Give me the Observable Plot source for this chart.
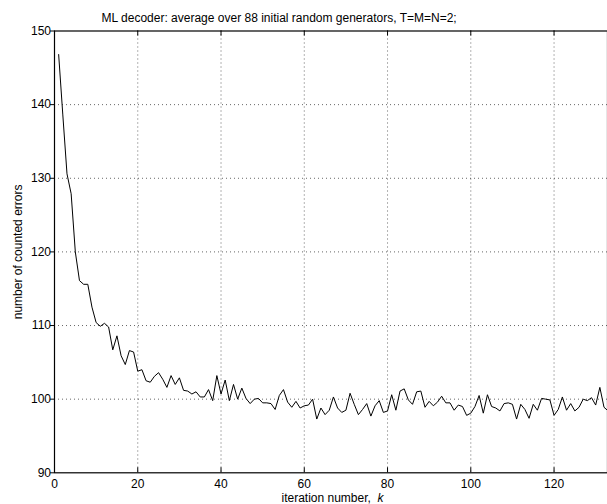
<!DOCTYPE html>
<html>
<head>
<meta charset="utf-8">
<script src="https://cdn.jsdelivr.net/npm/d3@7"></script>
<script src="https://cdn.jsdelivr.net/npm/@observablehq/plot@0.6"></script>
<style>
  html, body { margin: 0; padding: 0; background: #fff; overflow: hidden; }
  #chart svg { display: block; overflow: hidden; }
</style>
</head>
<body>
<div id="chart"></div>
<script>
const titleText = "ML decoder: average over 88 initial random generators, T=M=N=2;";
const xLabelText = "iteration number,";
const xLabelVar = "k";
const yLabelText = "number of counted errors";

const xTicks = [0, 20, 40, 60, 80, 100, 120];
const yTicks = [90, 100, 110, 120, 130, 140, 150];
const xGrid = [20, 40, 60, 80, 100, 120];
const yGrid = [100, 110, 120, 130, 140];

const iterations = d3.range(1, 134);
const errors = [
  146.8, 138.6, 130.6, 127.9, 120.0, 116.1, 115.6, 115.6, 112.5, 110.4,
  109.9, 110.3, 109.8, 106.7, 108.6, 105.9, 104.7, 106.6, 106.4, 103.8,
  104.0, 102.5, 102.3, 103.1, 103.6, 102.7, 101.6, 103.2, 102.0, 102.9,
  101.2, 101.1, 100.7, 101.0, 100.3, 100.3, 101.3, 99.8, 103.2, 100.7,
  102.6, 99.8, 102.0, 100.0, 101.5, 100.1, 99.4, 100.0, 100.1, 99.5,
  99.5, 99.4, 98.6, 100.5, 101.3, 99.6, 98.9, 99.7, 98.8, 99.1,
  99.2, 100.0, 97.3, 98.8, 97.9, 98.5, 100.3, 98.8, 98.2, 98.5,
  100.8, 99.3, 97.9, 98.6, 99.4, 97.7, 99.1, 99.8, 98.2, 98.4,
  100.6, 98.5, 101.1, 101.4, 99.9, 99.3, 101.0, 101.1, 98.9, 99.7,
  99.1, 99.6, 100.4, 99.5, 99.5, 98.5, 99.2, 99.0, 97.8, 98.1,
  99.0, 100.5, 98.1, 100.6, 99.0, 98.8, 98.4, 99.4, 99.5, 99.3,
  97.3, 99.3, 98.6, 97.4, 99.3, 98.5, 100.1, 100.0, 99.9, 97.8,
  98.6, 100.3, 98.5, 99.4, 98.4, 98.9, 100.0, 99.8, 100.2, 99.2,
  101.6, 98.9, 98.4
];

const data = iterations.map((k, i) => ({k, v: errors[i]}));

const W = 607, H = 504;
const mL = 54, mT = 30.5, mB = 31.7;
const plotH = H - mT - mB;
const xRangeEnd = 616;
const plotW = xRangeEnd - mL;
const font = "Liberation Sans, Arial, Helvetica, sans-serif";
const tickLen = 5;

const chart = Plot.plot({
  width: W,
  height: H,
  marginLeft: mL,
  marginRight: 0,
  marginTop: mT,
  marginBottom: mB,
  style: {fontFamily: font, fontSize: "12px", color: "#000", background: "#fff"},
  x: {domain: [0, 135], range: [mL, xRangeEnd]},
  y: {domain: [90, 150]},
  marks: [
    Plot.gridX(xGrid, {stroke: "#000", strokeOpacity: 0.6, strokeDasharray: "1,3"}),
    Plot.gridY(yGrid, {stroke: "#000", strokeOpacity: 0.6, strokeDasharray: "1,3"}),
    Plot.tickX(xTicks, {x: d => d, insetTop: plotH - tickLen, stroke: "#000"}),
    Plot.tickX(xTicks, {x: d => d, insetBottom: plotH - tickLen, stroke: "#000"}),
    Plot.tickY(yTicks, {y: d => d, insetRight: plotW - tickLen, stroke: "#000"}),
    Plot.line(data, {x: "k", y: "v", stroke: "#000", strokeWidth: 1}),
    Plot.frame({stroke: "#000", strokeWidth: 1.2}),
    Plot.axisX(xTicks, {tickSize: 0, tickPadding: 7, label: null, fontSize: 12}),
    Plot.axisY(yTicks, {tickSize: 0, tickPadding: 3.5, label: null, fontSize: 12}),
    Plot.text([titleText], {frameAnchor: "top-left", dx: 47, dy: -13, textAnchor: "start", lineAnchor: "middle", fontSize: 12}),
    Plot.text([yLabelText], {frameAnchor: "left", dx: -36, rotate: -90, textAnchor: "middle", lineAnchor: "middle", fontSize: 12}),
    Plot.text([xLabelText + "  " + xLabelVar], {frameAnchor: "bottom-left", dx: 281 - mL, dy: 25.5, textAnchor: "start", lineAnchor: "middle", fontSize: 12})
  ]
});

// italicize the variable name in the x label
d3.select(chart).selectAll("text").filter(function() {
  return this.textContent === xLabelText + "  " + xLabelVar;
}).each(function() {
  const t = d3.select(this);
  t.text(null);
  t.append("tspan").text(xLabelText + "\u00a0\u00a0");
  t.append("tspan").attr("font-style", "italic").text(xLabelVar);
});

document.getElementById("chart").appendChild(chart);
</script>
</body>
</html>
